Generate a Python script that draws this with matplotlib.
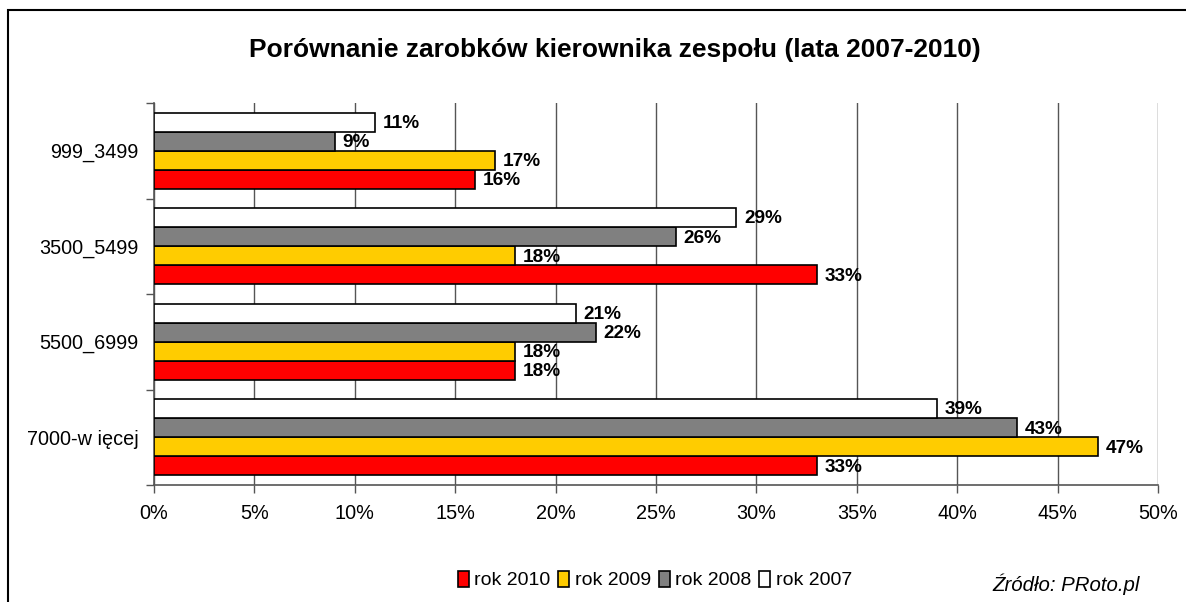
import numpy as np
import matplotlib.pyplot as plt
from matplotlib.patches import Rectangle
from matplotlib.ticker import FixedLocator, PercentFormatter

plt.rcParams['font.family'] = ['Liberation Sans', 'DejaVu Sans']

# Dane
kategorie = ["999_3499", "3500_5499", "5500_6999", "7000-w ięcej"]
lata = ["rok 2010", "rok 2009", "rok 2008", "rok 2007"]
rok_2010 = [16, 33, 18, 33]
rok_2009 = [17, 18, 18, 47]
rok_2008 = [9, 26, 22, 43]
rok_2007 = [11, 29, 21, 39]
kolory = ["#FF0000", "#FFCC00", "#808080", "#FFFFFF"]

serie = [rok_2010, rok_2009, rok_2008, rok_2007]

fig = plt.figure(figsize=(11.86, 6.02), dpi=100)
ax = fig.add_axes([154 / 1186, 1 - 485 / 602, (1158 - 154) / 1186, (485 - 103) / 602])

# ramka wykresu (lewa i gorna krawedz)
fig.patches.append(Rectangle((8 / 1186, -0.1), 1.2, 1 - 10 / 602 + 0.1,
                             transform=fig.transFigure, fill=False,
                             edgecolor="black", linewidth=1.5))

y = np.arange(len(kategorie))
h = 0.2
offsets = [0.3, 0.1, -0.1, -0.3]  # 2010 na dole, 2007 na gorze

for vals, col, off, lab in zip(serie, kolory, offsets, lata):
    bars = ax.barh(y + off, vals, height=h, color=col, edgecolor="black",
                   linewidth=1.2, label=lab, zorder=3)
    for b, v in zip(bars, vals):
        ax.annotate(f"{v}%", (v, b.get_y() + b.get_height() / 2),
                    xytext=(5.5, -1), textcoords="offset points",
                    ha="left", va="center", fontsize=13.7, fontweight="bold",
                    zorder=4)

ax.set_xlim(0, 50)
ax.set_ylim(len(kategorie) - 0.5, -0.5)
ax.set_xticks(np.arange(0, 51, 5))
ax.xaxis.set_major_formatter(PercentFormatter(decimals=0))
ax.set_yticks(y)
ax.set_yticklabels(kategorie)
ax.yaxis.set_minor_locator(FixedLocator(np.arange(-0.5, len(kategorie), 1)))
ax.tick_params(axis="y", which="major", length=0, pad=11, labelsize=14.3)
ax.tick_params(axis="y", which="minor", length=6, width=1, color="#555555")
ax.tick_params(axis="x", length=6, width=1, color="#555555", labelsize=14.3, pad=8)

ax.grid(axis="x", color="#555555", linewidth=1, zorder=0)
ax.spines["top"].set_visible(False)
ax.spines["right"].set_visible(False)
ax.spines["left"].set_color("#555555")
ax.spines["bottom"].set_color("#555555")
ax.spines["left"].set_linewidth(1.2)
ax.spines["bottom"].set_linewidth(1.2)

fig.text(615 / 1186, 1 - 50 / 602, "Porównanie zarobków kierownika zespołu (lata 2007-2010)",
         ha="center", va="center", fontsize=19, fontweight="bold")

handles, labels = ax.get_legend_handles_labels()
leg = fig.legend(handles, labels, loc="center", bbox_to_anchor=(655 / 1186, 1 - 580 / 602),
                 ncol=4, frameon=False, fontsize=14, handlelength=0.55, handleheight=0.9,
                 handletextpad=0.3, columnspacing=0.4)

fig.text(1140 / 1186, 1 - 584 / 602, "Źródło: PRoto.pl", ha="right", va="center",
         fontsize=14.7, style="italic")

fig.savefig("out.png", dpi=100)
